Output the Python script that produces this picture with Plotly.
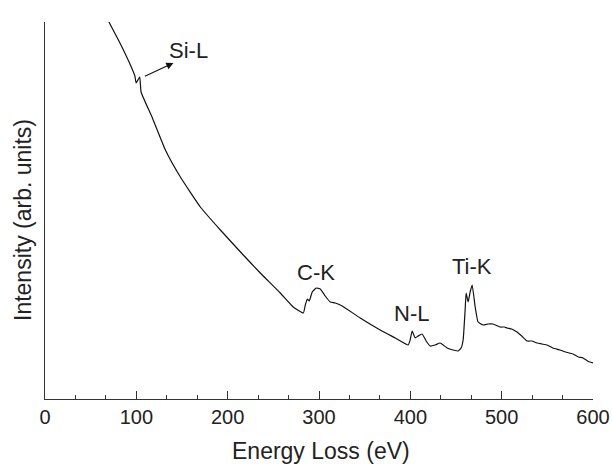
import plotly.graph_objects as go

# Energy loss (eV) and intensity (arb. units)
energy = [70, 82.6, 93.5, 98.4, 99.8, 103.7, 105.2, 117.6, 131.8, 148.2, 170.1, 192.0,
          217.1, 235.7, 257.6, 271.8, 282.8, 285.0, 287.2, 289.3, 292.6, 297.0, 301.4,
          306.8, 312.3, 317.8, 325.4, 345.1, 367.0, 383.4, 397.6, 399.8, 402.0, 405.3,
          408.5, 412.9, 417.3, 421.7, 427.1, 432.6, 440.3, 446.8, 452.3, 455.6, 457.8,
          460.0, 461.1, 463.3, 465.5, 467.7, 471.0, 474.2, 479.7, 485.1, 490.6, 498.2,
          503.0, 505.9, 511.0, 516.8, 522.0, 527.8, 533.0, 538.7, 544.0, 549.7, 556.0,
          563.9, 570.0, 578.1, 584.0, 589.0, 594.0, 600.0]
intensity = [377, 355, 334, 323, 316, 322, 307, 281, 249, 222, 192, 169,
             144, 126, 106, 92, 86, 94, 100, 98, 107, 111, 110,
             103, 97, 96, 93, 81, 69, 61, 54, 59, 68, 61,
             63, 65, 58, 53, 54, 56, 51, 49, 48, 51, 59,
             89, 106, 97, 107, 114, 92, 77, 74, 75, 75, 72,
             72, 71, 70, 67, 63, 58, 58, 56, 55, 54, 51,
             49, 47, 45, 42, 41, 38, 36]

# Edge labels
edge_labels = ["Si-L", "C-K", "N-L", "Ti-K"]
edge_label_x = [157.0, 296.5, 401.5, 468.0]
edge_label_y = [349, 127, 85.5, 132.5]

x_ticks = [0, 100, 200, 300, 400, 500, 600]

fig = go.Figure()
fig.add_trace(go.Scatter(x=energy, y=intensity, mode="lines",
                         line=dict(color="#111111", width=1.2, shape="spline", smoothing=0.4),
                         showlegend=False, hoverinfo="skip"))

for t, lx, ly in zip(edge_labels, edge_label_x, edge_label_y):
    fig.add_annotation(x=lx, y=ly, xref="x", yref="y", text=t, showarrow=False,
                       font=dict(family="Liberation Sans, Arial", size=22, color="#222222"),
                       xanchor="center", yanchor="middle")

# Arrow for Si-L
fig.add_annotation(x=140.6, y=336, ax=107.7, ay=322, xref="x", yref="y",
                   axref="x", ayref="y", text="", showarrow=True,
                   arrowhead=2, arrowsize=1.3, arrowwidth=1.1, arrowcolor="#111111")

# Axis titles
fig.add_annotation(x=0.503, y=-0.138, xref="paper", yref="paper",
                   text="Energy Loss (eV)", showarrow=False,
                   font=dict(family="Liberation Sans, Arial", size=23, color="#222222"),
                   xanchor="center", yanchor="middle")
fig.add_annotation(x=-0.040, y=0.475, xref="paper", yref="paper",
                   text="Intensity (arb. units)", showarrow=False, textangle=-90,
                   font=dict(family="Liberation Sans, Arial", size=23, color="#222222"),
                   xanchor="center", yanchor="middle")

fig.update_layout(
    width=612, height=464, autosize=False,
    margin=dict(l=45, r=19, t=22, b=65, pad=0, autoexpand=False),
    paper_bgcolor="white", plot_bgcolor="white",
    font=dict(family="Liberation Sans, Arial", color="#222222"),
)
fig.update_xaxes(range=[0, 600], tickvals=x_ticks, ticktext=[str(v) for v in x_ticks],
                 automargin=False,
                 showline=True, linecolor="#333333", linewidth=1.2,
                 ticks="inside", ticklen=8, tickwidth=1.2, tickcolor="#333333",
                 minor=dict(tick0=0, dtick=100 / 3, ticks="inside", ticklen=4,
                            tickwidth=1, tickcolor="#333333"),
                 showgrid=False, zeroline=False,
                 tickfont=dict(size=20, color="#222222"))
fig.update_yaxes(range=[0, 377], tickvals=[377], showticklabels=False, automargin=False,
                 showline=True, linecolor="#333333", linewidth=1.2,
                 ticks="inside", ticklen=4, tickwidth=1.2, tickcolor="#333333",
                 showgrid=False, zeroline=False)

fig.write_html("out.html", config={"displayModeBar": False, "responsive": False},
               post_script="document.body.style.margin='0';document.body.style.overflow='hidden';")
